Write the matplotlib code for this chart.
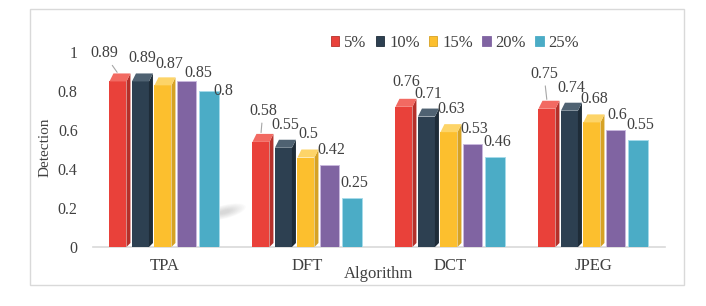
import matplotlib
matplotlib.use("Agg")
import matplotlib.pyplot as plt
from matplotlib.patches import Rectangle, Polygon, Patch, Ellipse

# chart data
algorithms = ["TPA", "DFT", "DCT", "JPEG"]
series = ["5%", "10%", "15%", "20%", "25%"]
det_5 = [0.89, 0.58, 0.76, 0.75]
det_10 = [0.89, 0.55, 0.71, 0.74]
det_15 = [0.87, 0.50, 0.63, 0.68]
det_20 = [0.85, 0.42, 0.53, 0.60]
det_25 = [0.80, 0.25, 0.46, 0.55]
values = [det_5, det_10, det_15, det_20, det_25]

# colours: front, side, top
front = ["#E9413A", "#2D4051", "#FCBF2E", "#8064A2", "#4BACC6"]
side = ["#B5302A", "#1E2C38", "#D6A224", "#8064A2", "#4BACC6"]
top = ["#F26A62", "#4F6272", "#FDD468", "#C9B8DD", "#A6DBEA"]
is_3d = [True, True, True, False, False]

plt.rcParams["font.family"] = ["Liberation Serif", "DejaVu Serif"]
txt = "#404040"

W, H = 706, 306
fig = plt.figure(figsize=(W / 100, H / 100), dpi=100)
ax = fig.add_axes([93 / W, 1 - 247 / H, 572 / W, 234 / H])
ax.set_xlim(-0.5, 3.5)
ax.set_ylim(0, 1.2)

# pixel -> data units
px_x = 1 / 143.0
px_y = 1 / 195.0
dx = 4 * px_x
dy = 8 * px_y
pitch = 22.5 * px_x

# manual label nudges (pixels) like dragged Excel labels: (group, series) -> (dx, dy, leader)
nudge = {
    (0, 0): (-16, 5, True),
    (0, 2): (4, -2, False),
    (0, 3): (10, -7, False),
    (0, 4): (12, -15, False),
    (1, 0): (0, 8, True),
    (2, 0): (0, 2, False),
    (3, 0): (-5, 12, True),
}

# soft blurred shadow behind TPA
for k in range(10):
    ax.add_patch(Ellipse((0.42, 0.18), 0.30 - k * 0.025, 0.07 - k * 0.006,
                         angle=10, color="#8a8a8a", alpha=0.035, lw=0, zorder=1))

for i, vals in enumerate(values):
    for g, v in enumerate(vals):
        x0 = g - 0.385 + i * pitch
        if is_3d[i]:
            w = 17 * px_x
            ax.add_patch(Rectangle((x0, 0), w, v - dy, facecolor=front[i], lw=0, zorder=3))
            ax.add_patch(Polygon([(x0 + w, 0), (x0 + w + dx, dy * 0.5), (x0 + w + dx, v), (x0 + w, v - dy)],
                                 closed=True, facecolor=side[i], lw=0, zorder=3))
            ax.add_patch(Polygon([(x0, v - dy), (x0 + w, v - dy), (x0 + w + dx, v), (x0 + dx, v)],
                                 closed=True, facecolor=top[i], lw=0, zorder=3))
            cx = x0 + w / 2
        else:
            w = 19.5 * px_x
            ax.add_patch(Rectangle((x0, 0), w, v, facecolor=front[i],
                                   edgecolor=top[i], lw=0.7, zorder=3))
            cx = x0 + w / 2
        ox, oy, leader = nudge.get((g, i), (0, 0, False))
        kw = {}
        if leader:
            kw["arrowprops"] = dict(arrowstyle="-", color="#A6A6A6", lw=0.8,
                                    shrinkA=1, shrinkB=1)
        ax.annotate(f"{v:g}", xy=(cx, v), xytext=(2 + ox, 15 + oy),
                    textcoords="offset pixels", ha="center", va="center",
                    fontsize=11.5, color=txt, zorder=5, **kw)

# axes styling
for s in ["top", "right", "left"]:
    ax.spines[s].set_visible(False)
ax.spines["bottom"].set_color("#D9D9D9")
ax.spines["bottom"].set_linewidth(1.2)
ax.set_xticks(range(len(algorithms)))
ax.set_xticklabels(algorithms)
ax.set_yticks([0, 0.2, 0.4, 0.6, 0.8, 1.0])
ax.set_yticklabels(["0", "0.2", "0.4", "0.6", "0.8", "1"])
ax.tick_params(axis="y", length=0, pad=11, labelsize=11.5, labelcolor=txt)
ax.tick_params(axis="x", length=0, pad=8, labelsize=12, labelcolor=txt)

fig.text(379 / W, 1 - 274 / H, "Algorithm", ha="center", va="center", fontsize=12, color=txt)
fig.text(45 / W, 1 - 147 / H, "Detection", ha="center", va="center", rotation=90,
         fontsize=11, color=txt)

handles = [Patch(facecolor=front[i], edgecolor=side[i], lw=0.6) for i in range(len(series))]
fig.legend(handles, series, loc="center left", bbox_to_anchor=(331 / W, 1 - 43 / H),
           ncol=5, frameon=False, fontsize=12, handlelength=0.5, handleheight=0.5,
           handletextpad=0.3, columnspacing=0.55, borderpad=0, borderaxespad=0,
           labelcolor=txt)

fig.patches.append(Rectangle((30 / W, 1 - 285 / H), 654 / W, 276 / H, transform=fig.transFigure,
                             fill=False, edgecolor="#D9D9D9", lw=1))

fig.savefig("out.png", dpi=100)
